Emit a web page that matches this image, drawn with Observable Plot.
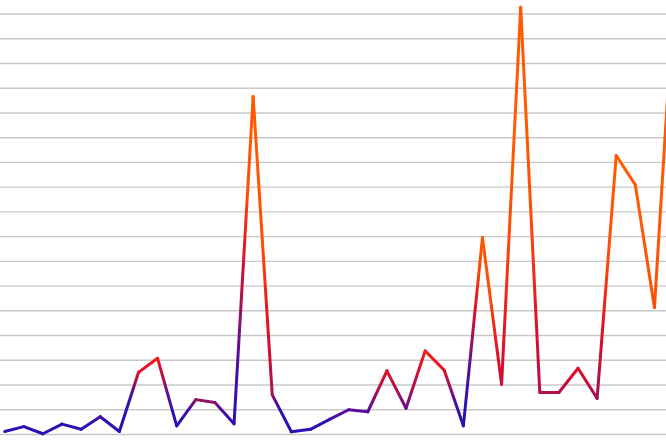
<!DOCTYPE html>
<html><head><meta charset="utf-8">
<script src="https://cdn.jsdelivr.net/npm/d3@7"></script>
<script src="https://cdn.jsdelivr.net/npm/@observablehq/plot@0.6"></script>
<style>html,body{margin:0;padding:0;background:#fff;overflow:hidden}</style>
</head><body><div id="chart"></div>
<script>
// Series values (one per step along x)
const values = [1.2, 3.2, 0.3, 4.2, 2.1, 7.2, 1.2, 25.1, 30.8, 3.5, 14.1, 12.9, 4.3, 136.6, 16.0, 1.1, 2.1, 6.1,
                10.0, 9.2, 25.7, 10.6, 33.8, 26.0, 3.5, 79.6, 20.3, 172.7, 17.0, 17.0, 26.8, 14.6, 112.8, 100.9, 51.3, 176];
// Horizontal grid line positions
const gridTicks = [0, 10, 20, 30, 40, 50, 60, 70, 80, 90, 100, 110, 120, 130, 140, 150, 160, 170];

const segments = values.slice(1).map((v, i) => ({i, x1: i, y1: values[i], x2: i + 1, y2: v}));

const tOf = d3.scaleLog().domain([1, 180]).range([0, 1]).clamp(true);
const ramp = d3.scaleLinear()
  .domain([0, 0.3, 0.44, 0.54, 0.64, 0.74, 0.85, 1])
  .range(["#2a10b4", "#2c10b2", "#5a0c98", "#b0104a", "#e81020", "#ff4a08", "#ff5a00", "#ff5a00"])
  .clamp(true);

const plot = Plot.plot({
  width: 666, height: 444,
  marginTop: 13.5, marginBottom: 10, marginLeft: 0, marginRight: 0,
  x: {domain: [-0.22, 34.63], axis: null},
  y: {domain: [0, 170], axis: null},
  color: {type: "identity"},
  marks: [
    Plot.gridY(gridTicks, {stroke: "#c8c8c8", strokeOpacity: 1, strokeWidth: 1.4}),
    Plot.link(segments, {x1: "x1", y1: "y1", x2: "x2", y2: "y2",
      stroke: d => `url(#seg${d.i})`, strokeWidth: 3, strokeLinecap: "round"})
  ]
});

const xs = plot.scale("x"), ys = plot.scale("y");
const defs = d3.select(plot).insert("defs", ":first-child");
segments.forEach(s => {
  const g = defs.append("linearGradient")
    .attr("id", `seg${s.i}`)
    .attr("gradientUnits", "userSpaceOnUse")
    .attr("x1", xs.apply(s.x1)).attr("y1", ys.apply(s.y1))
    .attr("x2", xs.apply(s.x2)).attr("y2", ys.apply(s.y2));
  const t0 = tOf(Math.max(s.y1, 0.01)), t1 = tOf(Math.max(s.y2, 0.01));
  for (let k = 0; k <= 10; k++) {
    const f = k / 10;
    g.append("stop").attr("offset", f).attr("stop-color", ramp(t0 + (t1 - t0) * f));
  }
});
document.getElementById("chart").appendChild(plot);
</script>
</body></html>
